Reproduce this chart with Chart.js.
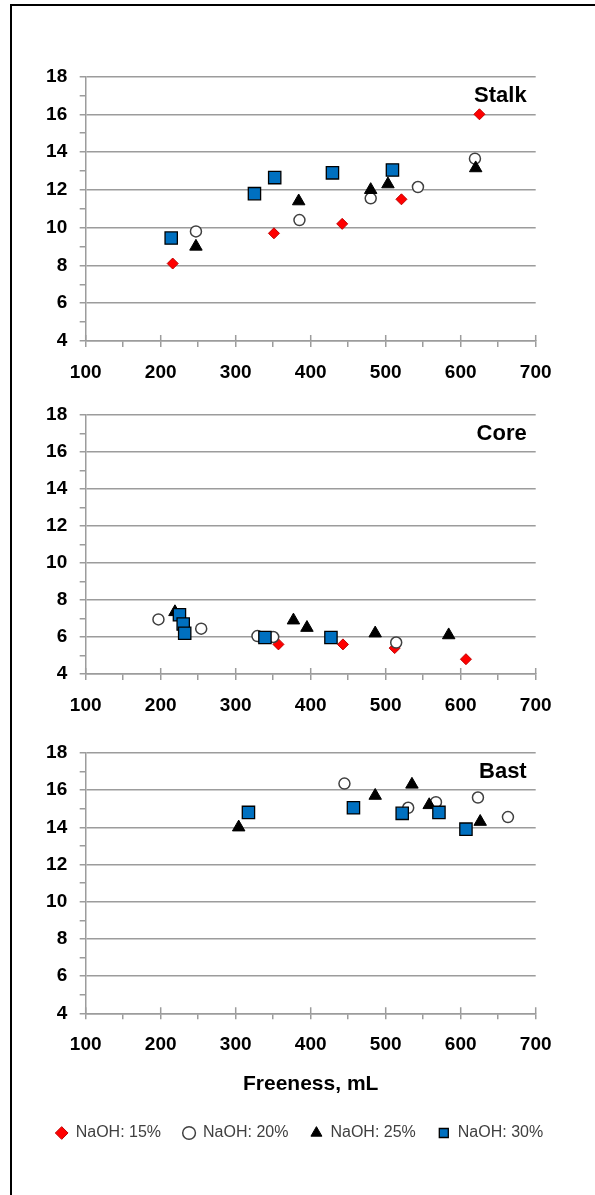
<!DOCTYPE html>
<html>
<head>
<meta charset="utf-8">
<script src="https://cdn.jsdelivr.net/npm/chart.js@4.4.0/dist/chart.umd.min.js"></script>
<style>
  html, body { margin: 0; padding: 0; background: #fff; width: 595px; height: 1195px; overflow: hidden; }
  #frame { position: absolute; left: 10px; top: 4px; width: 700px; height: 1300px; border: 2.5px solid #000; box-sizing: border-box; }
  .panel { position: absolute; left: 0; width: 595px; }
</style>
</head>
<body>
<div id="frame"></div>
<div class="panel" style="top:40px;height:360px"><canvas id="stalk"></canvas></div>
<div class="panel" style="top:391px;height:342px"><canvas id="core"></canvas></div>
<div class="panel" style="top:729px;height:466px"><canvas id="bast"></canvas></div>
<script>
// tick labels
const freenessTicks = [100, 200, 300, 400, 500, 600, 700];
const valueTicks = [4, 6, 8, 10, 12, 14, 16, 18];
const seriesNames = ['NaOH: 15%', 'NaOH: 20%', 'NaOH: 25%', 'NaOH: 30%'];

// [freeness mL, value]
const stalk15 = [[216, 8.1], [351, 9.7], [442, 10.2], [521, 11.5], [625, 16.0]];
const stalk20 = [[247, 9.8], [385, 10.4], [480, 11.55], [543, 12.15], [619, 13.65]];
const stalk25 = [[247, 9.0], [384, 11.4], [480, 12.0], [503, 12.3], [620, 13.15]];
const stalk30 = [[214, 9.45], [325, 11.8], [352, 12.65], [429, 12.9], [509, 13.05]];

const core15 = [[357, 5.6], [443, 5.6], [512, 5.4], [607, 4.8]];
const core20 = [[197, 6.95], [254, 6.45], [329, 6.05], [350, 6.0], [514, 5.7]];
const core25 = [[219, 7.35], [377, 6.9], [395, 6.5], [486, 6.2], [584, 6.1]];
const core30 = [[225, 7.2], [230, 6.7], [232, 6.2], [339, 5.97], [427, 5.97]];

const bast15 = [];
const bast20 = [[445, 16.35], [530, 15.05], [567, 15.35], [623, 15.6], [663, 14.55]];
const bast25 = [[304, 14.0], [486, 15.7], [535, 16.3], [558, 15.2], [626, 14.3]];
const bast30 = [[317, 14.8], [457, 15.05], [522, 14.75], [571, 14.8], [607, 13.9]];

const FONT = '"Liberation Sans", Arial, sans-serif';
const gridColor = '#9c9c9c';
Chart.defaults.font.family = FONT;

const markers = [
  { pointStyle: 'rectRot', radius: 5.5, bg: '#ff0000', border: '#c00000', width: 1, order: 4 },
  { pointStyle: 'circle', radius: 5.5, bg: '#ffffff', border: '#404040', width: 1.5, order: 3 },
  { pointStyle: 'triangle', radius: 7.2, bg: '#000000', border: '#000000', width: 1, order: 2 },
  { pointStyle: 'rect', radius: 8.7, bg: '#0070c0', border: '#000000', width: 1.3, order: 1 }
];

const panelDecor = {
  id: 'panelDecor',
  beforeDatasetsDraw(chart) {
    const { ctx, chartArea, scales } = chart;
    ctx.save();
    ctx.strokeStyle = gridColor;
    ctx.lineWidth = 1.5;
    ctx.beginPath();
    freenessTicks.forEach((v) => {
      const px = scales.x.getPixelForValue(v);
      ctx.moveTo(px, chartArea.bottom - 6);
      ctx.lineTo(px, chartArea.bottom);
    });
    ctx.stroke();
    ctx.restore();
  },
  afterDraw(chart, _args, opts) {
    const { ctx, chartArea } = chart;
    ctx.save();
    ctx.font = 'bold 22px ' + FONT;
    ctx.fillStyle = '#000';
    ctx.textAlign = 'right';
    ctx.textBaseline = 'alphabetic';
    ctx.fillText(opts.text, chartArea.right - 9, chartArea.top + 25.5);
    ctx.restore();
  }
};

function makePanel(id, label, series, cfg) {
  const datasets = series.map((pts, i) => ({
    label: seriesNames[i],
    data: pts.map(([x, y]) => ({ x, y })),
    showLine: false,
    order: markers[i].order,
    pointStyle: markers[i].pointStyle,
    pointRadius: markers[i].radius,
    pointBackgroundColor: markers[i].bg,
    pointBorderColor: markers[i].border,
    pointBorderWidth: markers[i].width,
    backgroundColor: markers[i].bg,
    borderColor: markers[i].border
  }));

  return new Chart(document.getElementById(id), {
    type: 'scatter',
    data: { datasets },
    plugins: [panelDecor],
    options: {
      responsive: true,
      maintainAspectRatio: false,
      animation: false,
      events: [],
      layout: { padding: { left: 33.7, right: 0, top: cfg.top, bottom: cfg.bottom || 0 } },
      scales: {
        x: {
          type: 'linear',
          min: 100,
          max: 700,
          afterFit: (s) => { s.height = cfg.xHeight; },
          ticks: {
            stepSize: 50,
            autoSkip: false,
            maxRotation: 0,
            padding: 14,
            color: '#000',
            font: { size: 19, weight: 'bold' },
            callback: (v) => (freenessTicks.includes(v) ? String(v) : '')
          },
          grid: { drawOnChartArea: false, tickLength: 6, color: gridColor, lineWidth: 1.5 },
          border: { color: gridColor, width: 1.5 },
          title: cfg.xTitle ? {
            display: true,
            text: cfg.xTitle,
            color: '#000',
            font: { size: 21, weight: 'bold' },
            padding: { top: 0, bottom: 6.4 }
          } : { display: false }
        },
        y: {
          type: 'linear',
          min: 4,
          max: 18,
          afterFit: (s) => { s.width = 52; },
          ticks: {
            stepSize: 1,
            autoSkip: false,
            padding: 12.5,
            color: '#000',
            font: { size: 19, weight: 'bold' },
            callback: (v) => (valueTicks.includes(v) ? String(v) : '')
          },
          grid: {
            tickLength: 6,
            lineWidth: 1.5,
            color: (c) => (c.tick && valueTicks.includes(c.tick.value) ? gridColor : 'rgba(0,0,0,0)'),
            tickColor: gridColor
          },
          border: { color: gridColor, width: 1.5 }
        },
        yr: {
          type: 'linear',
          position: 'right',
          afterFit: (s) => { s.width = 59.3; },
          ticks: { display: false },
          grid: { display: false, drawTicks: false },
          border: { display: false }
        }
      },
      plugins: {
        panelDecor: { text: label },
        tooltip: { enabled: false },
        legend: cfg.legend ? {
          display: true,
          position: 'bottom',
          align: 'start',
          labels: {
            usePointStyle: true,
            boxWidth: 12,
            boxHeight: 9,
            padding: 22,
            color: '#404040',
            font: { size: 16 },
            sort: (a, b) => a.datasetIndex - b.datasetIndex
          }
        } : { display: false }
      }
    }
  });
}

makePanel('stalk', 'Stalk', [stalk15, stalk20, stalk25, stalk30], { top: 36.5, xHeight: 59 });
makePanel('core', 'Core', [core15, core20, core25, core30], { top: 19.7, xHeight: 59 });
makePanel('bast', 'Bast', [bast15, bast20, bast25, bast30], {
  top: 20.3, xHeight: 89.7, bottom: 44, xTitle: 'Freeness, mL', legend: true
});
</script>
</body>
</html>
